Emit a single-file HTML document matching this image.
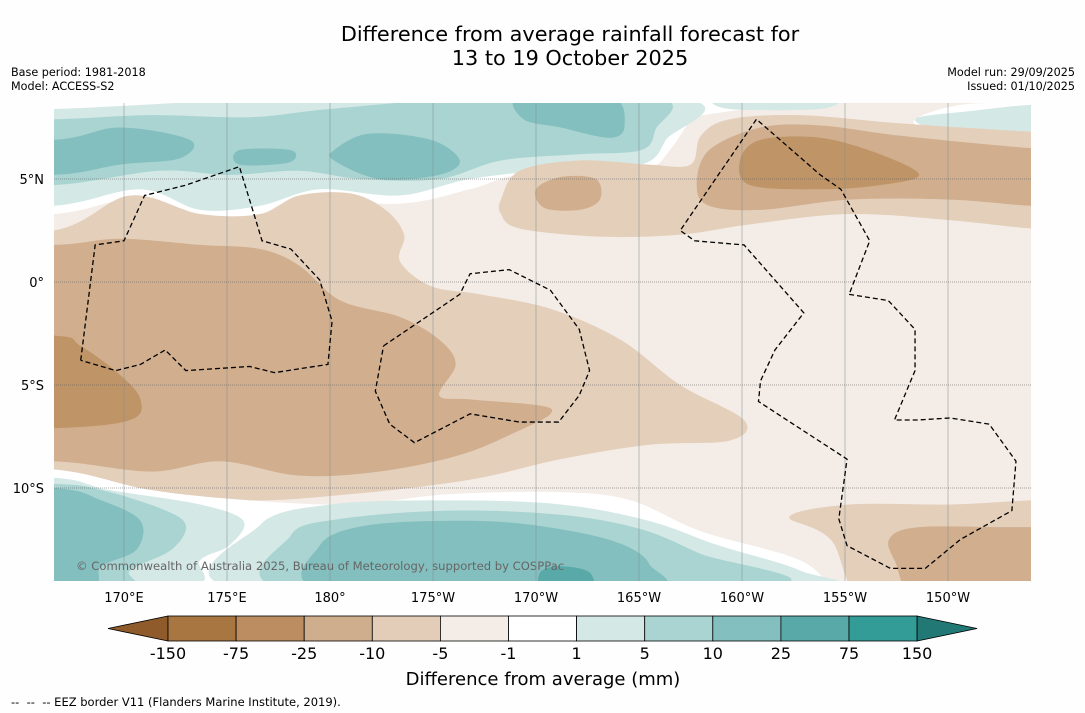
<!DOCTYPE html>
<html><head><meta charset="utf-8">
<style>
body{margin:0;background:#fefefe;width:1085px;height:713px;overflow:hidden;font-family:"DejaVu Sans","Liberation Sans",sans-serif;}
.t{position:absolute;color:#000;}
</style></head>
<body>
<div class="t" style="left:0;width:1140px;top:22px;text-align:center;font-size:20.8px;line-height:24px;">Difference from average rainfall forecast for<br>13 to 19 October 2025</div>
<div class="t" style="left:11px;top:66px;font-size:11.2px;line-height:14px;">Base period: 1981-2018<br>Model: ACCESS-S2</div>
<div class="t" style="right:10px;top:66px;font-size:11.2px;line-height:14px;text-align:right;">Model run: 29/09/2025<br>Issued: 01/10/2025</div>
<div class="t" style="left:11px;top:695px;font-size:11.5px;">-- &nbsp;-- &nbsp;-- EEZ border V11 (Flanders Marine Institute, 2019).</div>
<svg id="svg" width="1085" height="713" style="position:absolute;left:0;top:0">
<defs><clipPath id="mc"><rect x="54" y="103" width="977" height="478"/></clipPath></defs>
<g id="map" clip-path="url(#mc)"></g>
<g id="grid"></g>
<g id="eez" clip-path="url(#mc)"></g>
<g id="axes"></g>
<g id="cbar"></g>
</svg>
<script>
const lonTicks=[170,175,180,185,190,195,200,205,210];
const lonLabels=["170°E","175°E","180°","175°W","170°W","165°W","160°W","155°W","150°W"];
const latTicks=[5,0,-5,-10];
const latLabels=["5°N","0°","5°S","10°S"];
const cbLevels=["-150","-75","-25","-10","-5","-1","1","5","10","25","75","150"];
const cbColors=["#a87641","#bb8d61","#cfae8d","#e3cdb9","#f4ede7","#ffffff","#d4e8e6","#a9d4d2","#83bfbe","#59a9a8","#349c97"];
const cbUnder="#8f5b2b", cbOver="#227875";
const C={b1:"#e4cfbb",b2:"#d0ae8e",b3:"#bf9568",w:"#ffffff",t1:"#d4e8e6",t2:"#a9d4d2",t3:"#83bfbe",t4:"#59a9a8",base:"#f4ede7"};
const shapes=[
["base",[[160,12],[220,12],[220,-18],[160,-18]]],
["w",[[160,8.7],[198,8.7],[197.5,7.9],[196.5,6.4],[195.5,5.5],[193.1,5.2],[189.2,5.2],[186.8,4.5],[183.4,3.8],[178.5,4],[176.1,3.1],[172.7,3.1],[170.3,4],[166.6,3.3],[160,3.3]]],
["w",[[208.4,7.9],[210.6,8.6],[214,8.7],[216,8.7],[216,6.5],[211.6,6.9],[209.1,7.4]]],
["t1",[[160,8.4],[166.6,8.4],[178.5,8.9],[197,8.9],[196.3,6.9],[195.1,5.7],[191.2,5.5],[186.8,5],[183.4,4.2],[179.5,4.5],[176.6,3.7],[173.7,3.5],[170.8,4.5],[166.6,3.7],[160,3.7]]],
["t1",[[208.4,7.9],[211.1,8.3],[214,8.6],[216,8.6],[216,6.9],[210.6,7.1]]],
["t1",[[199,8.9],[204.3,8.9],[203.8,8.4],[199.4,8.4]]],
["t2",[[160,7.9],[166.6,7.9],[171.3,8.1],[176.1,8],[180,8.4],[186.8,8.9],[196,8.9],[195.8,7.4],[195.1,6.4],[192.1,6.2],[188.3,5.9],[185.3,5],[181.5,5],[178.5,5.4],[175.1,5.2],[171.7,5.4],[166.6,4.7],[160,4.7]]],
["t3",[[160,6.9],[166.6,6.9],[169.8,7.5],[173.2,6.9],[172.7,6.0],[169.8,5.7],[166.6,5.2],[160,5.2]]],
["t3",[[175.6,6.4],[178.1,6.4],[178,5.8],[175.6,5.7]]],
["t3",[[180.2,6.4],[181.9,7.2],[184.9,6.9],[186.3,5.9],[185.3,5.2],[182.4,5],[180.2,5.9]]],
["t3",[[189.2,9],[193.6,9],[194.3,7.6],[193.6,7.0],[191.2,7.5],[189.4,7.9]]],
["b1",[[160,2.5],[166.6,2.5],[170.3,4.2],[173.7,3.3],[176.6,3.3],[178.5,4.2],[181,4.3],[182.7,3.5],[183.6,2.3],[183.4,1.0],[184.9,-0.2],[187.3,-0.6],[190.7,-1.3],[194.1,-2.8],[197,-5],[200.1,-6.7],[199.4,-7.7],[195.5,-7.9],[191.2,-8.6],[186.8,-9.6],[181,-10.3],[176.1,-10.6],[171.3,-10.1],[166.6,-9.1],[160,-9.1]]],
["b1",[[188.3,4],[189.2,5.4],[192.1,5.9],[195.5,5.7],[197.5,5.7],[198,7.1],[199.4,7.9],[202.8,8.1],[207.7,7.7],[214,7.3],[216,7.3],[216,2.6],[214,2.6],[210.1,3.0],[205.2,3.3],[200.4,2.8],[197,2.3],[193.1,2.2],[189.2,2.6],[188.3,3.3]]],
["b1",[[202.3,-11.4],[205.2,-10.8],[210.1,-10.8],[214,-10.6],[216,-10.6],[216,-16],[206.7,-16],[204.3,-12.5]]],
["b2",[[160,1.8],[166.6,1.8],[169.8,2.1],[173.7,1.8],[176.6,1.6],[178.5,0.8],[180.5,-0.9],[183.4,-1.7],[185.3,-2.8],[186.1,-4],[185.3,-5.5],[186.8,-5.7],[190.2,-6],[190.7,-6.4],[189.2,-7.2],[186.3,-8.4],[182.4,-9.2],[178.5,-9.4],[174.7,-8.7],[171.3,-9.2],[166.6,-8.7],[160,-8.7]]],
["b2",[[190,4.5],[191.2,5.1],[192.9,5],[193.1,4],[192.1,3.5],[190.4,3.6]]],
["b2",[[197.8,4.7],[198.4,6.4],[200.9,7.5],[203.8,7.6],[207.7,7.1],[214,6.5],[216,6.5],[216,3.7],[214,3.7],[210.1,4],[205.2,4],[200.9,3.5],[198.4,3.7]]],
["b2",[[207.2,-12.4],[208.6,-11.9],[212.5,-11.9],[214,-11.9],[216,-11.9],[216,-16],[209.1,-16],[207.4,-13.5]]],
["b3",[[160,-2.6],[166.6,-2.6],[167.9,-3.1],[169.8,-4.5],[170.8,-5.7],[170.3,-6.7],[166.6,-7.1],[160,-7.1]]],
["b3",[[199.9,5.9],[200.9,6.9],[203.8,7.0],[206.7,6.2],[208.6,5.2],[206.7,4.7],[203.8,4.5],[200.4,4.7]]],
["w",[[160,-9.1],[166.6,-9.1],[171.3,-10.1],[176.1,-10.6],[181,-10.8],[185.8,-10.3],[191.2,-10.2],[194.6,-10.6],[198,-12.1],[202.8,-13.5],[204.3,-15],[204.3,-16],[160,-16]]],
["t1",[[160,-9.5],[166.6,-9.5],[169.3,-10.1],[173.7,-10.8],[175.8,-11.6],[175.1,-12.8],[173.7,-13.5],[172.7,-15],[160,-16]]],
["t1",[[176.6,-11.8],[180,-10.8],[185.8,-10.6],[191.2,-10.8],[195.5,-11.6],[198.9,-12.8],[202.8,-14],[203.3,-15],[176.1,-15]]],
["t2",[[160,-9.8],[166.6,-9.8],[168.9,-10.1],[171.8,-11],[173,-11.8],[172.3,-13],[170.3,-14],[169.8,-15],[160,-16]]],
["t2",[[178.1,-12.3],[180.5,-11.5],[185.8,-11.1],[191.2,-11.3],[195.1,-12.0],[198,-13.2],[201.4,-14.7],[178.5,-15]]],
["t3",[[160,-10],[166.6,-10],[168.9,-10.6],[170.8,-11.6],[170.6,-13],[168.9,-13.8],[167.9,-15],[160,-16]]],
["t3",[[179.5,-12.8],[181.9,-11.8],[187.3,-11.6],[191.2,-12.0],[194.1,-12.7],[195.5,-13.7],[195.1,-15],[180,-15]]],
["t4",[[190.2,-14.1],[191.2,-13.8],[192.6,-14.1],[192.6,-15],[190.4,-15]]]
];
const eezLines=[
[[167.9,-3.8],[168.6,1.8],[170,2.0],[171,4.2],[173,4.7],[175.6,5.6],[176.4,3],[176.7,2],[178.1,1.6],[179.5,0.1],[180.1,-1.9],[179.9,-4],[177.3,-4.4],[176.1,-4.1],[173,-4.3],[172,-3.3],[170.8,-4],[169.6,-4.3],[167.9,-3.8]],
[[182.6,-3.1],[186.3,-0.6],[186.8,0.4],[188.7,0.6],[190.7,-0.4],[192.1,-2.3],[192.6,-4.3],[192.1,-5.5],[191.1,-6.8],[189.2,-6.8],[186.8,-6.4],[184.1,-7.8],[182.9,-6.9],[182.2,-5.3],[182.6,-3.1]],
[[205.2,-0.6],[207.1,-0.9],[208.4,-2.3],[208.4,-4.3],[207.4,-6.7],[208.5,-6.7],[210.1,-6.6],[212,-6.9],[213.3,-8.7],[213.1,-11.1],[210.6,-12.5],[208.9,-13.9],[207.2,-13.9],[205.1,-12.8],[204.7,-11.5],[205.1,-8.6],[200.8,-5.8],[200.9,-4.8],[201.6,-3.3],[203,-1.5],[200.1,1.8],[197.7,2.0],[197,2.5],[200.7,7.9],[203.8,5.2],[204.8,4.5],[206.2,2.0],[205.2,-0.6]]
];
const X=lon=>124+(lon-170)*20.6;
const Y=lat=>282-lat*20.6;
const NS="http://www.w3.org/2000/svg";
const FF="DejaVu Sans, Liberation Sans, sans-serif";
function mk(t,a,p){const e=document.createElementNS(NS,t);for(const k in a)e.setAttribute(k,a[k]);p.appendChild(e);return e;}
function smooth(pts){const P=pts.map(p=>[X(p[0]),Y(p[1])]);const n=P.length;let d=`M${P[0][0]},${P[0][1]}`;
for(let i=0;i<n;i++){const p0=P[(i-1+n)%n],p1=P[i],p2=P[(i+1)%n],p3=P[(i+2)%n];
d+=`C${p1[0]+(p2[0]-p0[0])/6},${p1[1]+(p2[1]-p0[1])/6} ${p2[0]-(p3[0]-p1[0])/6},${p2[1]-(p3[1]-p1[1])/6} ${p2[0]},${p2[1]}`;}return d+"Z";}
const map=document.getElementById('map');
shapes.forEach(s=>{const e=mk('path',{d:smooth(s[1]),fill:C[s[0]]},map);

});
const txt=mk('text',{x:76,y:570,'font-size':11.6,fill:'#666','font-family':FF},map);
txt.textContent="© Commonwealth of Australia 2025, Bureau of Meteorology, supported by COSPPac";


const grid=document.getElementById('grid'),axes=document.getElementById('axes');
lonTicks.forEach((l,i)=>{const x=X(l);
const g=mk('line',{x1:x,x2:x,y1:103,y2:581,stroke:'#7f8c8c','stroke-width':0.5},grid);


const t=mk('text',{x:x,y:602,'font-size':13,'text-anchor':'middle','font-family':FF},axes);
t.textContent=lonLabels[i];

});
latTicks.forEach((l,i)=>{const y=Y(l);
const g=mk('line',{x1:54,x2:1031,y1:y,y2:y,stroke:'#555','stroke-width':0.6,'stroke-dasharray':'1,1'},grid);


const t=mk('text',{x:44,y:y+5,'font-size':13,'text-anchor':'end','font-family':FF},axes);
t.textContent=latLabels[i];

});
const eez=document.getElementById('eez');
eezLines.forEach(L=>{const e=mk('polyline',{points:L.map(p=>X(p[0])+','+Y(p[1])).join(' '),fill:'none',stroke:'#000','stroke-width':1.3,'stroke-dasharray':'5,3'},eez);

});
const cb=document.getElementById('cbar');
const cx0=168,cw=68.1,cy=616,ch=25;
const lt=mk('polygon',{points:`108,${cy+ch/2} ${cx0},${cy} ${cx0},${cy+ch}`,fill:cbUnder,stroke:'#000','stroke-width':0.8},cb);


cbColors.forEach((c,i)=>{const r=mk('rect',{x:cx0+i*cw,y:cy,width:cw,height:ch,fill:c,stroke:'#000','stroke-width':0.8},cb);

});
const xe=cx0+cbColors.length*cw;
const rt=mk('polygon',{points:`${xe},${cy} ${xe+60},${cy+ch/2} ${xe},${cy+ch}`,fill:cbOver,stroke:'#000','stroke-width':0.8},cb);


cbLevels.forEach((v,i)=>{const t=mk('text',{x:cx0+i*cw,y:659,'font-size':16,'text-anchor':'middle','font-family':FF},cb);
t.textContent=v;

});
const ct=mk('text',{x:543,y:685,'font-size':18,'text-anchor':'middle','font-family':FF},cb);
ct.textContent="Difference from average (mm)";


</script>
</body></html>
